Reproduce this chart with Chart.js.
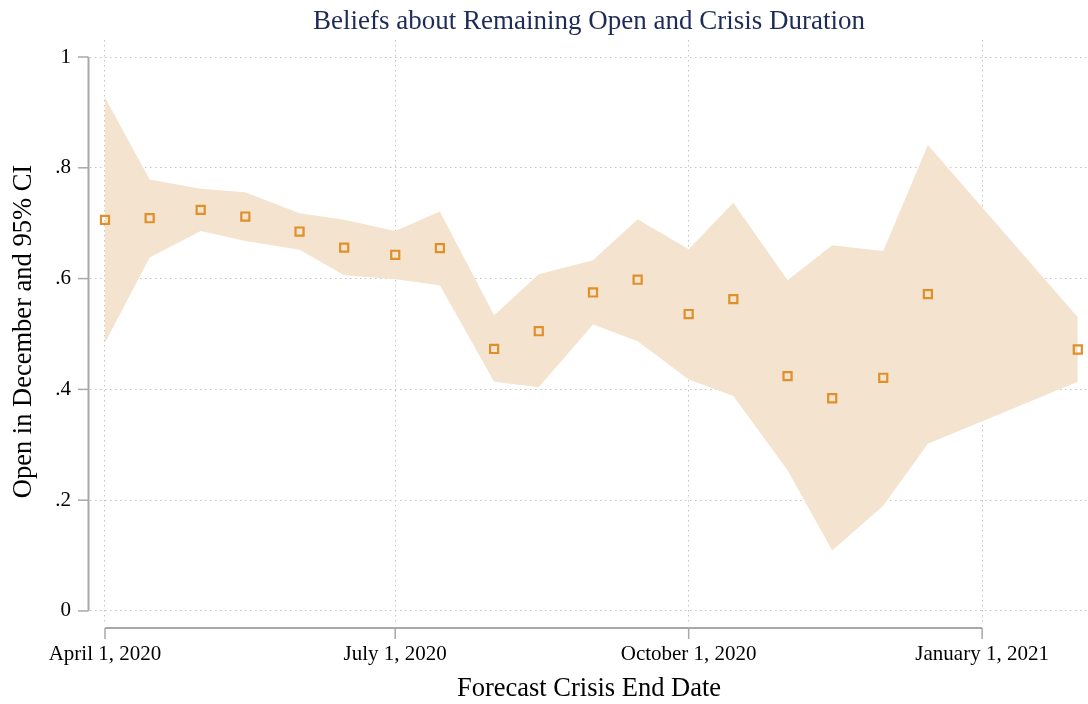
<!DOCTYPE html>
<html>
<head>
<meta charset="utf-8">
<title>Beliefs about Remaining Open and Crisis Duration</title>
<script src="https://cdn.jsdelivr.net/npm/chart.js@4.4.1/dist/chart.umd.min.js"></script>
<style>
  html, body { margin: 0; padding: 0; background: #fff; }
  #wrap { width: 1088px; height: 704px; position: relative; }
</style>
</head>
<body>
<div id="wrap"><canvas id="chart"></canvas></div>
<script>
// forecast crisis end dates (half-month bins)
const dates = ['2020-04-01','2020-04-15','2020-05-01','2020-05-15','2020-06-01','2020-06-15',
  '2020-07-01','2020-07-15','2020-08-01','2020-08-15','2020-09-01','2020-09-15',
  '2020-10-01','2020-10-15','2020-11-01','2020-11-15','2020-12-01','2020-12-15','2021-01-31'];
// share expecting to be open in December
const openShare = [0.706,0.709,0.724,0.712,0.685,0.656,0.643,0.655,0.473,0.505,
  0.575,0.598,0.536,0.563,0.424,0.384,0.421,0.572,0.472];
// 95% CI bounds
const ciUpper = [0.927,0.779,0.762,0.756,0.718,0.706,0.686,0.721,0.534,0.608,
  0.633,0.707,0.653,0.737,0.597,0.660,0.650,0.841,0.530];
const ciLower = [0.484,0.638,0.686,0.668,0.652,0.606,0.599,0.588,0.414,0.404,
  0.517,0.487,0.418,0.388,0.254,0.109,0.190,0.302,0.414];

const xTickDates = ['2020-04-01','2020-07-01','2020-10-01','2021-01-01'];
const xTickLabels = ['April 1, 2020','July 1, 2020','October 1, 2020','January 1, 2021'];
const yTicks = [0, 0.2, 0.4, 0.6, 0.8, 1];
const yTickLabels = ['0','.2','.4','.6','.8','1'];

const FONT = "'Liberation Serif', 'Times New Roman', serif";
const markerColor = '#df902a';
const bandColor = '#f4e4cf';
const axisColor = '#a8a8a8';

function dayNum(s) {
  return Date.UTC(+s.slice(0,4), +s.slice(5,7) - 1, +s.slice(8,10)) / 86400000;
}
function pts(vals) {
  return vals.map((v, i) => ({ x: dayNum(dates[i]), y: v }));
}

// Stata-like detached axis lines, drawn from the scales
const axisLines = {
  id: 'axisLines',
  afterDraw(chart) {
    const { ctx, chartArea, scales: { x, y } } = chart;
    ctx.save();
    ctx.strokeStyle = axisColor;
    // y axis
    const ax = chartArea.left - 1.5;
    ctx.lineWidth = 2;
    ctx.beginPath();
    ctx.moveTo(ax, y.getPixelForValue(yTicks[0]));
    ctx.lineTo(ax, y.getPixelForValue(yTicks[yTicks.length - 1]));
    ctx.stroke();
    ctx.lineWidth = 1.5;
    yTicks.forEach(v => {
      const py = y.getPixelForValue(v);
      ctx.beginPath();
      ctx.moveTo(ax - 10.5, py);
      ctx.lineTo(ax, py);
      ctx.stroke();
    });
    // x axis
    const ay = chartArea.bottom + 5;
    ctx.lineWidth = 2;
    ctx.beginPath();
    ctx.moveTo(x.getPixelForValue(dayNum(xTickDates[0])), ay);
    ctx.lineTo(x.getPixelForValue(dayNum(xTickDates[xTickDates.length - 1])), ay);
    ctx.stroke();
    ctx.lineWidth = 1.5;
    xTickDates.forEach(d => {
      const px = x.getPixelForValue(dayNum(d));
      ctx.beginPath();
      ctx.moveTo(px, ay);
      ctx.lineTo(px, ay + 11);
      ctx.stroke();
    });
    // title centred over plot area
    ctx.fillStyle = '#1e2b57';
    ctx.font = '27px ' + FONT;
    ctx.textAlign = 'center';
    ctx.textBaseline = 'middle';
    ctx.fillText('Beliefs about Remaining Open and Crisis Duration',
      (chartArea.left + chartArea.right) / 2, 22);
    ctx.restore();
  }
};

const ctx = document.getElementById('chart').getContext('2d');
new Chart(ctx, {
  type: 'line',
  data: {
    datasets: [
      {
        label: 'Open in December',
        data: pts(openShare),
        showLine: false,
        pointStyle: 'rect',
        pointRadius: 5.7,
        pointBorderWidth: 2.2,
        pointBorderColor: markerColor,
        pointBackgroundColor: 'rgba(0,0,0,0)',
        fill: false
      },
      {
        label: 'CI upper',
        data: pts(ciUpper),
        borderWidth: 0,
        borderColor: 'rgba(0,0,0,0)',
        pointRadius: 0,
        tension: 0,
        backgroundColor: bandColor,
        fill: '+1'
      },
      {
        label: 'CI lower',
        data: pts(ciLower),
        borderWidth: 0,
        borderColor: 'rgba(0,0,0,0)',
        pointRadius: 0,
        tension: 0,
        fill: false
      }
    ]
  },
  options: {
    responsive: true,
    maintainAspectRatio: false,
    animation: false,
    layout: { autoPadding: false, padding: { top: 40, left: 0, right: 0, bottom: 0 } },
    plugins: {
      legend: { display: false },
      tooltip: { enabled: false },
      title: { display: false }
    },
    scales: {
      x: {
        type: 'linear',
        min: dayNum('2020-04-01') - 4.7,
        max: dayNum('2021-01-01') + 33.2,
        afterBuildTicks: s => { s.ticks = xTickDates.map(d => ({ value: dayNum(d) })); },
        afterFit: s => { s.height = 81; },
        ticks: {
          color: '#000',
          font: { family: FONT, size: 21 },
          padding: 19,
          maxRotation: 0,
          autoSkip: false,
          callback: (v) => {
            const i = xTickDates.findIndex(d => dayNum(d) === v);
            return i >= 0 ? xTickLabels[i] : '';
          }
        },
        grid: { color: '#c4c4c4', lineWidth: 1, drawTicks: false },
        border: { display: false, dash: [1.5, 3.5] },
        title: {
          display: true,
          text: 'Forecast Crisis End Date',
          color: '#000',
          font: { family: FONT, size: 26.5, lineHeight: 1.1 },
          padding: { top: 0, bottom: 0 }
        }
      },
      y: {
        min: -0.0217,
        max: 1.0307,
        afterBuildTicks: s => { s.ticks = yTicks.map(v => ({ value: v })); },
        afterFit: s => { s.width = 90; },
        ticks: {
          color: '#000',
          font: { family: FONT, size: 21 },
          padding: 19,
          callback: (v) => {
            const i = yTicks.indexOf(v);
            return i >= 0 ? yTickLabels[i] : '';
          }
        },
        grid: { color: '#c4c4c4', lineWidth: 1, drawTicks: false },
        border: { display: false, dash: [1.5, 3.5] },
        title: {
          display: true,
          text: 'Open in December and 95% CI',
          color: '#000',
          font: { family: FONT, size: 26.5, lineHeight: 1.2 },
          padding: { top: 8, bottom: 0 }
        }
      }
    }
  },
  plugins: [axisLines]
});
</script>
</body>
</html>
